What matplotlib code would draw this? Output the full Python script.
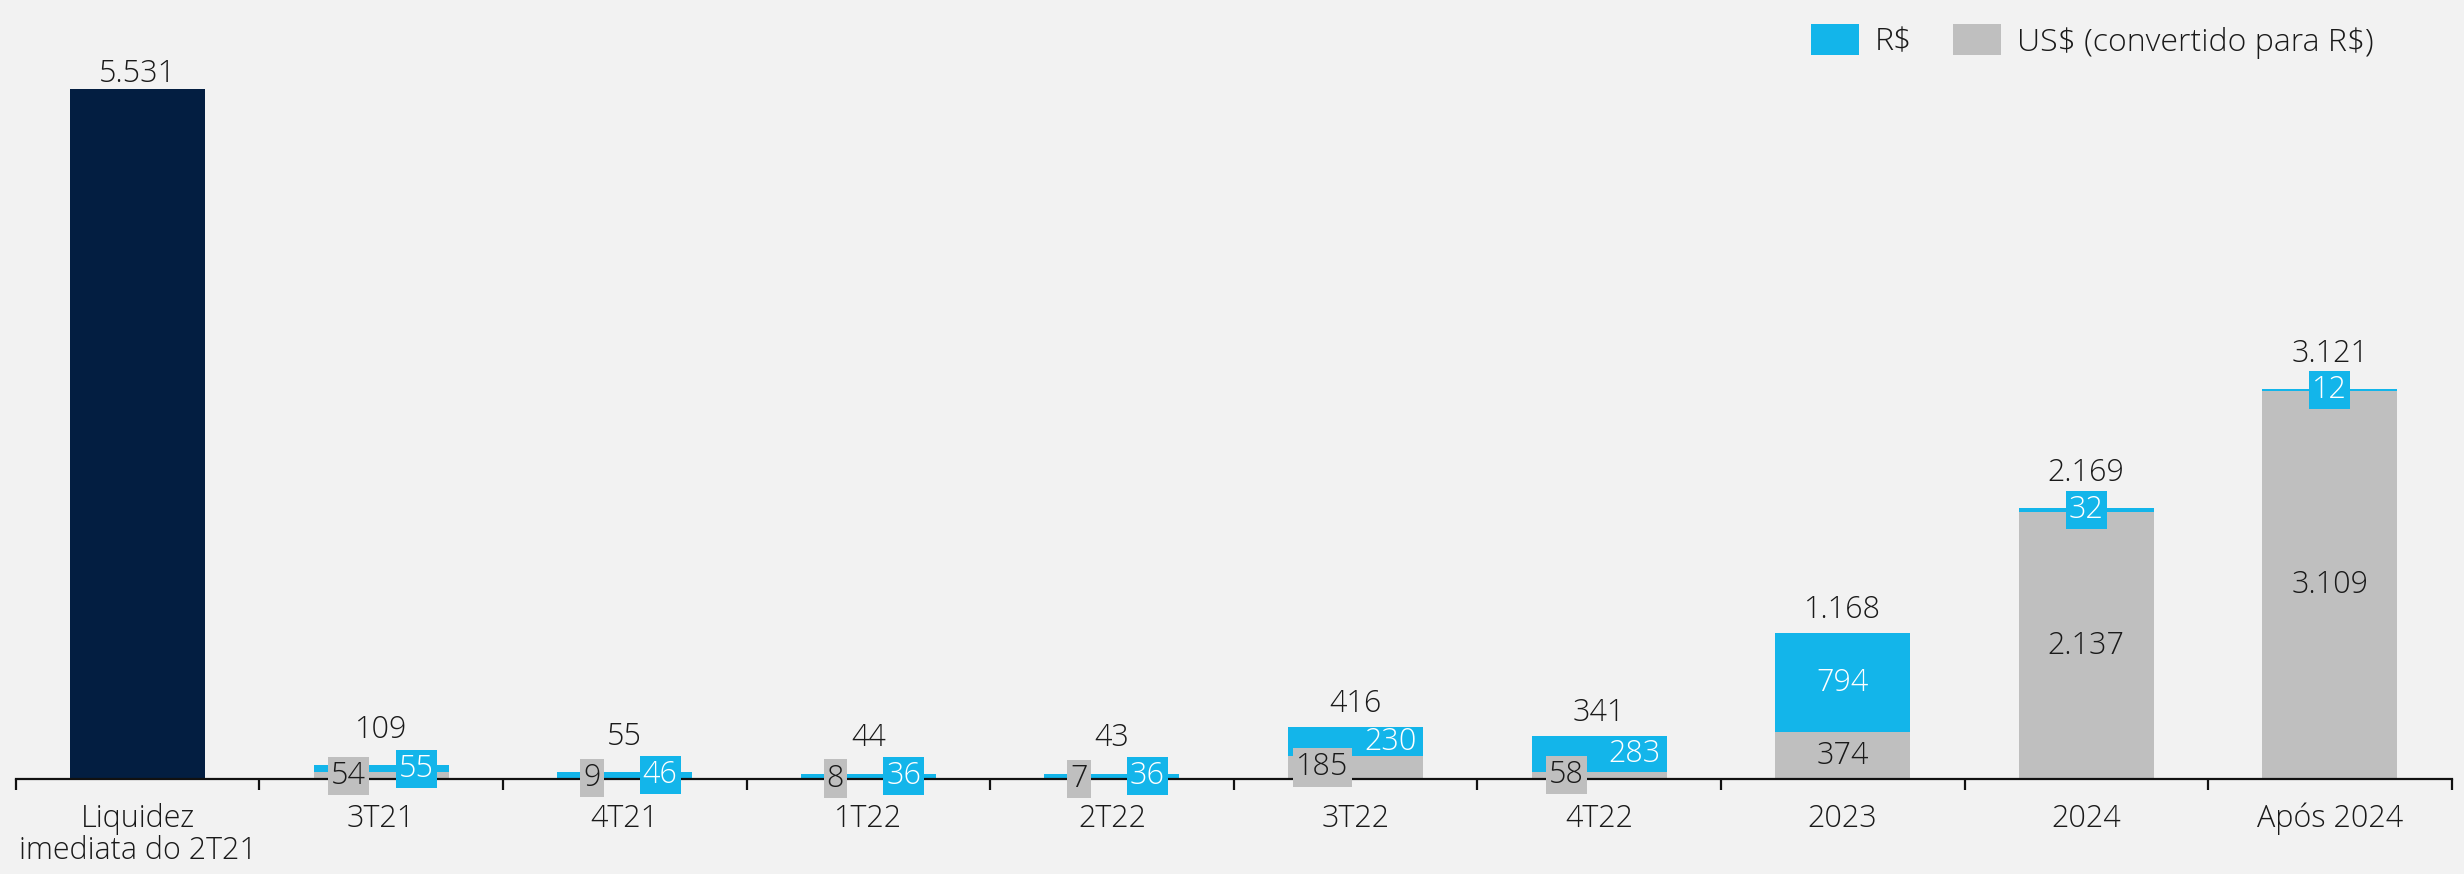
import matplotlib
matplotlib.use("Agg")
import matplotlib.pyplot as plt
from matplotlib.patches import Patch
import numpy as np

plt.rcParams["font.family"] = ["Open Sans", "DejaVu Sans"]
plt.rcParams["font.weight"] = "light"

categories = ["Liquidez\nimediata do 2T21", "3T21", "4T21", "1T22", "2T22",
              "3T22", "4T22", "2023", "2024", "Após 2024"]
liquidez = 5531
usd = [54, 9, 8, 7, 185, 58, 374, 2137, 3109]      # US$ convertido para R$
brl = [55, 46, 36, 36, 230, 283, 794, 32, 12]      # R$
totals = [109, 55, 44, 43, 416, 341, 1168, 2169, 3121]

NAVY = "#031E41"
CYAN = "#13B5EA"
GRAY = "#BFBFBF"
BG = "#F2F2F2"
TXT = "#1A1A1A"
FS = 22


def fmt(v):
    return f"{v:,}".replace(",", ".")


fig = plt.figure(figsize=(24.64, 8.74), dpi=100, facecolor=BG)
ax = fig.add_axes([15.7 / 2464, 95 / 874, 2436 / 2464, 779 / 874], facecolor=BG)
ax.set_ylim(0, 779 / 0.1248)
ax.set_xlim(-0.5, len(categories) - 0.5)

x = np.arange(len(categories))
w = 0.555
ax.bar(x[0], liquidez, width=w, color=NAVY)
ax.bar(x[1:], usd, width=w, color=GRAY)
ax.bar(x[1:], brl, width=w, bottom=usd, color=CYAN)

ax.annotate(fmt(liquidez), (x[0], liquidez), xytext=(0, -1), textcoords="offset points",
            ha="center", va="bottom", fontsize=FS, color=TXT)

for i, (g, c, t) in enumerate(zip(usd, brl, totals)):
    xi = x[i + 1]
    small = t < 500
    # gray segment label
    gx = xi - 0.135 if small else xi
    gbox = dict(boxstyle="square,pad=0.1", fc=GRAY, ec="none") if g < 200 else None
    ax.text(gx, g / 2, fmt(g), ha="center", va="center", fontsize=FS, color=TXT,
            bbox=gbox)
    # R$ segment label
    cx = xi + 0.145 if small else xi
    boxed = c < 200
    cbox = dict(boxstyle="square,pad=0.1", fc=CYAN, ec="none") if boxed else None
    ax.text(cx, g + c / 2, fmt(c), ha="center", va="center", fontsize=FS,
            color="white", bbox=cbox)
    # total
    gap = 14 if boxed else 5
    ax.annotate(fmt(t), (xi, g + c), xytext=(0, gap), textcoords="offset points",
                ha="center", va="bottom", fontsize=FS, color=TXT)

for s in ["top", "right", "left"]:
    ax.spines[s].set_visible(False)
ax.spines["bottom"].set_linewidth(1.6)
ax.spines["bottom"].set_color("#111111")
ax.set_yticks([])
ax.set_xticks(x)
ax.set_xticklabels(categories, fontsize=FS, color=TXT, linespacing=1.0)
ax.set_xticks(np.arange(-0.5, len(categories)), minor=True)
ax.tick_params(axis="x", which="major", length=0, pad=17)
ax.tick_params(axis="x", which="minor", length=8, width=1.6, color="#111111",
               direction="out")

handles = [Patch(fc=CYAN, ec="none", label="R$"),
           Patch(fc=GRAY, ec="none", label=r"US\$ (convertido para R\$)")]
fig.legend(handles=handles, loc="upper right", bbox_to_anchor=(0.975, 1.005),
           ncol=2, frameon=False, fontsize=23, handlelength=1.5, handleheight=1.1,
           handletextpad=0.5, columnspacing=1.3, labelcolor=TXT)

fig.savefig("out.png", dpi=100, facecolor=BG)
